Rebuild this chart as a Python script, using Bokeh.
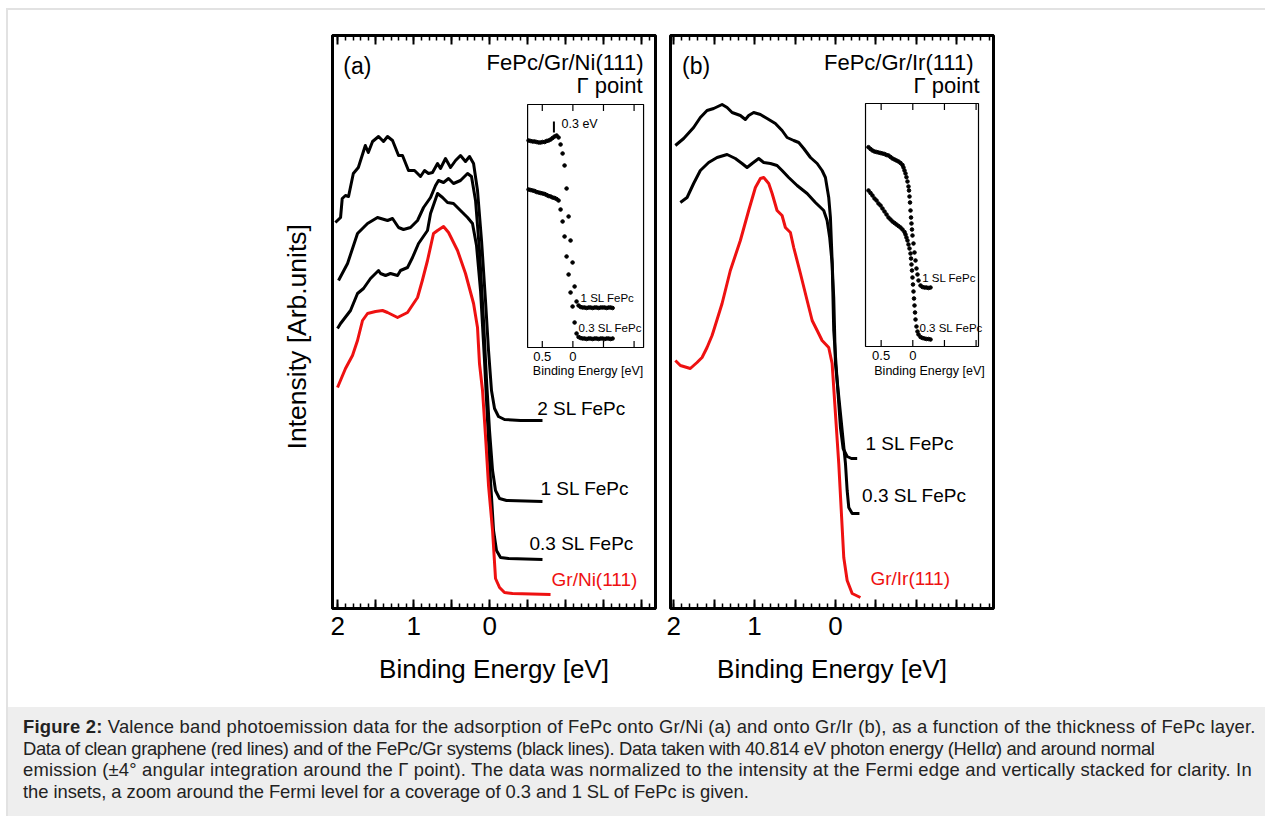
from bokeh.plotting import figure
from bokeh.models import Range1d, LinearAxis, FixedTicker, CustomJSTickFormatter, Div
from bokeh.layouts import row, column
from bokeh.core.properties import value
from bokeh.embed import file_html
from bokeh.resources import INLINE

FONT = "Liberation Sans"
RED = "#ee1111"

# ---------------- Panel (a): FePc/Gr/Ni(111) ----------------
A_2SL_E = [2.032,1.964,1.942,1.899,1.859,1.796,1.730,1.638,1.599,1.543,1.464,1.399,1.346,1.280,1.201,1.149,1.070,0.991,0.951,0.912,0.859,0.807,0.754,0.688,0.649,0.583,0.517,0.451,0.386,0.320,0.267,0.214,0.162,0.109,0.057,0.017,-0.022,-0.062,-0.114,-0.193,-0.404,-0.693]
A_2SL_I = [3.86,3.91,4.10,4.13,4.12,4.35,4.41,4.63,4.56,4.67,4.72,4.67,4.72,4.68,4.53,4.53,4.38,4.38,4.35,4.32,4.38,4.35,4.36,4.45,4.40,4.50,4.41,4.48,4.53,4.47,4.52,4.45,4.18,3.68,3.08,2.58,2.18,2.00,1.92,1.89,1.88,1.88]

A_1SL_E = [1.991,1.872,1.741,1.609,1.478,1.346,1.280,1.201,1.136,1.043,0.951,0.872,0.780,0.714,0.675,0.609,0.543,0.478,0.386,0.293,0.241,0.188,0.136,0.083,0.043,0.004,-0.036,-0.075,-0.128,-0.220,-0.693]
A_1SL_I = [3.28,3.45,3.75,3.85,3.91,3.88,3.90,3.81,3.79,3.81,3.88,4.01,4.11,4.23,4.28,4.26,4.30,4.25,4.28,4.35,4.32,4.08,3.58,2.88,2.28,1.78,1.38,1.18,1.10,1.08,1.07]

A_03_E = [2.004,1.964,1.833,1.741,1.662,1.570,1.464,1.438,1.372,1.307,1.214,1.175,1.083,1.017,0.938,0.820,0.780,0.688,0.622,0.557,0.478,0.386,0.293,0.228,0.175,0.122,0.070,0.030,-0.009,-0.049,-0.088,-0.141,-0.246,-0.693]
A_03_I = [2.80,2.85,2.98,3.15,3.20,3.30,3.38,3.35,3.33,3.35,3.33,3.38,3.41,3.51,3.65,3.78,3.95,4.15,4.11,4.06,4.05,3.98,3.91,3.85,3.63,3.18,2.48,1.88,1.28,0.78,0.58,0.51,0.50,0.49]

A_GR_E = [2.004,1.899,1.807,1.741,1.675,1.609,1.504,1.412,1.346,1.214,1.083,0.951,0.888,0.820,0.741,0.688,0.609,0.543,0.425,0.320,0.214,0.162,0.136,0.096,0.057,0.017,-0.036,-0.075,-0.128,-0.193,-0.299,-0.799]
A_GR_I = [2.21,2.40,2.53,2.68,2.88,2.95,2.97,2.98,2.96,2.91,2.96,3.11,3.28,3.48,3.75,3.78,3.82,3.76,3.58,3.35,3.05,2.81,2.45,2.18,1.73,1.23,0.78,0.30,0.21,0.16,0.15,0.14]

# inset (a): zoom around the Fermi level
IA_E = [0.724,0.691,0.658,0.626,0.593,0.560,0.528,0.495,0.462,0.429,0.397,0.364,0.332,0.299,0.266,0.234,0.201,0.168,0.136,0.103,0.070,0.038,0.005,-0.028,-0.060,-0.093,-0.126,-0.158,-0.191,-0.224,-0.257,-0.289,-0.322,-0.355,-0.387,-0.420,-0.453,-0.485,-0.518,-0.551,-0.583,-0.616,-0.649]
IA_1SL = [2.07,2.065,2.06,2.06,2.055,2.05,2.05,2.055,2.055,2.065,2.07,2.08,2.095,2.11,2.12,2.10,2.03,1.94,1.82,1.59,1.31,1.07,0.85,0.61,0.46,0.42,0.405,0.40,0.40,0.395,0.40,0.40,0.395,0.40,0.40,0.395,0.40,0.40,0.40,0.395,0.40,0.40,0.395]
IA_03 = [1.58,1.575,1.57,1.565,1.555,1.55,1.545,1.54,1.535,1.525,1.515,1.51,1.50,1.495,1.485,1.47,1.38,1.26,1.11,0.91,0.73,0.55,0.41,0.25,0.14,0.105,0.095,0.09,0.09,0.085,0.09,0.09,0.085,0.09,0.09,0.085,0.09,0.09,0.085,0.09,0.09,0.085,0.09]

# ---------------- Panel (b): FePc/Gr/Ir(111) ----------------
B_1SL_E = [1.980,1.877,1.754,1.671,1.588,1.506,1.402,1.340,1.278,1.176,1.114,1.073,1.011,0.928,0.845,0.743,0.660,0.598,0.516,0.454,0.392,0.309,0.226,0.165,0.124,0.083,0.062,0.041,0.021,-0.021,-0.062,-0.095,-0.145,-0.198,-0.269]
B_1SL_I = [4.63,4.70,4.81,4.91,4.98,5.00,5.04,5.01,4.96,4.93,4.89,4.93,4.96,4.94,4.90,4.85,4.78,4.71,4.68,4.66,4.60,4.51,4.45,4.38,4.31,4.11,3.91,3.48,2.78,2.28,1.81,1.60,1.52,1.50,1.50]

B_03_E = [1.918,1.835,1.754,1.671,1.568,1.464,1.340,1.238,1.155,1.093,1.031,0.949,0.887,0.804,0.722,0.660,0.578,0.474,0.350,0.248,0.145,0.103,0.071,0.041,0.021,0.000,-0.062,-0.124,-0.145,-0.165,-0.207,-0.297]
B_03_I = [4.06,4.11,4.25,4.38,4.46,4.51,4.54,4.50,4.45,4.41,4.45,4.50,4.46,4.45,4.43,4.38,4.31,4.23,4.15,4.06,3.98,3.88,3.71,3.45,3.11,2.45,1.95,1.45,1.18,1.01,0.95,0.95]

B_GR_E = [1.980,1.918,1.795,1.712,1.650,1.588,1.526,1.506,1.402,1.300,1.176,1.073,0.990,0.928,0.887,0.825,0.783,0.722,0.660,0.619,0.557,0.516,0.433,0.350,0.288,0.226,0.165,0.083,0.041,0.000,-0.041,-0.074,-0.103,-0.145,-0.207,-0.309]
B_GR_I = [2.48,2.43,2.40,2.46,2.51,2.61,2.73,2.78,3.05,3.38,3.68,3.98,4.21,4.30,4.31,4.25,4.15,3.98,3.93,3.81,3.76,3.61,3.35,3.08,2.88,2.78,2.68,2.61,2.45,1.95,1.45,0.95,0.51,0.28,0.15,0.11]

# inset (b)
IB_1SL_E = [0.700,0.668,0.637,0.605,0.573,0.542,0.510,0.479,0.447,0.415,0.384,0.352,0.321,0.289,0.258,0.226,0.194,0.163,0.147,0.131,0.115,0.100,0.084,0.068,0.060,0.052,0.044,0.036,0.028,0.021,0.013,0.005,-0.011,-0.027,-0.043,-0.058,-0.074,-0.090,-0.122,-0.153,-0.185,-0.216,-0.248,-0.280]
IB_1SL_I = [1.993,1.975,1.96,1.95,1.945,1.94,1.935,1.93,1.925,1.915,1.91,1.895,1.88,1.87,1.86,1.85,1.835,1.815,1.79,1.76,1.73,1.693,1.65,1.60,1.56,1.50,1.44,1.36,1.29,1.23,1.17,1.11,1.03,0.94,0.86,0.78,0.72,0.66,0.61,0.595,0.59,0.59,0.585,0.59]
IB_03_E = [0.700,0.668,0.637,0.605,0.573,0.542,0.510,0.479,0.447,0.415,0.384,0.352,0.321,0.289,0.258,0.226,0.194,0.163,0.131,0.115,0.100,0.084,0.068,0.052,0.036,0.028,0.021,0.013,0.005,-0.003,-0.011,-0.019,-0.027,-0.035,-0.043,-0.058,-0.074,-0.090,-0.122,-0.153,-0.185,-0.216,-0.248,-0.280]
IB_03_I = [1.56,1.535,1.51,1.48,1.46,1.43,1.41,1.38,1.35,1.32,1.29,1.27,1.25,1.235,1.22,1.205,1.19,1.17,1.145,1.12,1.09,1.06,1.02,0.98,0.93,0.88,0.82,0.76,0.69,0.62,0.55,0.48,0.41,0.34,0.27,0.20,0.15,0.12,0.095,0.085,0.08,0.075,0.075,0.07]

# axis / tick configuration
MAJOR = [2.0, 1.5, 1.0, 0.5, 0.0, -0.5, -1.0, -1.5, -2.0]
MINOR = [round(2.0 - 0.1 * i, 1) for i in range(44)]
INSET_TICKS = [0.5, 0.0, -0.5, -1.0]
INSET_TICK_LABELS = ["0.5", "0"]
Y_MAX = 5.73
INSET_TOP = 2.43


def txt(p, x, y, s, size, align="left", baseline="middle", color="black", rn="default"):
    p.text(x=[x], y=[y], text=[s], text_font=value(FONT), text_font_size=value(size),
           text_align=align, text_baseline=baseline, text_color=color,
           x_range_name=rn, y_range_name=rn)


def make_panel(xr, width, mbl, mbr, ylabel=None):
    p = figure(width=width, height=697, x_range=Range1d(*xr), y_range=Range1d(0, Y_MAX),
               output_backend="svg", toolbar_location=None,
               min_border_left=mbl, min_border_right=mbr, min_border_top=25, min_border_bottom=99,
               y_axis_location="left" if ylabel else None)
    p.grid.visible = False
    p.outline_line_color = "black"
    p.outline_line_width = 3
    p.border_fill_color = "white"
    p.background_fill_color = "white"
    xb = p.below[0]
    top = LinearAxis()
    p.add_layout(top, "above")
    for ax in (xb, top):
        ax.ticker = FixedTicker(ticks=MAJOR, minor_ticks=MINOR)
        ax.major_tick_in = 9
        ax.major_tick_out = 0
        ax.minor_tick_in = 5
        ax.minor_tick_out = 0
        ax.major_tick_line_width = 2
        ax.minor_tick_line_width = 1.5
        ax.axis_line_width = 3
    xb.formatter = CustomJSTickFormatter(
        code="return (tick > -0.01 && Math.abs(tick - Math.round(tick)) < 1e-6) ? String(Math.round(tick)) : '';")
    xb.major_label_text_font = FONT
    xb.major_label_text_font_size = "26px"
    xb.major_label_text_color = "black"
    xb.major_label_standoff = 8
    xb.axis_label = "Binding Energy [eV]"
    xb.axis_label_text_font = FONT
    xb.axis_label_text_font_size = "26px"
    xb.axis_label_text_font_style = "normal"
    xb.axis_label_text_color = "black"
    xb.axis_label_standoff = 16
    top.formatter = CustomJSTickFormatter(code="return '';")
    top.major_label_text_font_size = "0px"
    top.major_label_standoff = 0
    if ylabel:
        ya = p.left[0]
        ya.ticker = FixedTicker(ticks=[])
        ya.major_tick_line_color = None
        ya.minor_tick_line_color = None
        ya.major_tick_out = 0
        ya.minor_tick_out = 0
        ya.major_label_text_font_size = "0px"
        ya.major_label_standoff = 0
        ya.axis_line_width = 3
        # trailing no-break spaces shift the centred label toward the bottom, as in the original
        ya.axis_label = ylabel + "\u00a0" * 4
        ya.axis_label_text_font = FONT
        ya.axis_label_text_font_size = "26.5px"
        ya.axis_label_text_font_style = "normal"
        ya.axis_label_text_color = "black"
        ya.axis_label_standoff = 21
    return p


def add_inset(p, xr_full, yr_full, frame_x, e_a, i_a, e_b, i_b):
    p.extra_x_ranges = {"in": Range1d(*xr_full)}
    p.extra_y_ranges = {"in": Range1d(*yr_full)}
    p.quad(left=[frame_x[0]], right=[frame_x[1]], bottom=[0], top=[INSET_TOP],
           fill_color=None, line_color="black", line_width=1.2,
           x_range_name="in", y_range_name="in")
    n = len(INSET_TICKS)
    tl = 0.065
    p.segment(x0=INSET_TICKS, y0=[INSET_TOP] * n, x1=INSET_TICKS, y1=[INSET_TOP - tl] * n,
              line_color="black", line_width=1.2, x_range_name="in", y_range_name="in")
    p.segment(x0=INSET_TICKS, y0=[0] * n, x1=INSET_TICKS, y1=[tl] * n,
              line_color="black", line_width=1.2, x_range_name="in", y_range_name="in")
    p.scatter(e_a, i_a, size=3.6, color="black", x_range_name="in", y_range_name="in")
    p.scatter(e_b, i_b, size=3.6, color="black", x_range_name="in", y_range_name="in")
    p.text(x=INSET_TICKS[:2], y=[-0.085, -0.085], text=INSET_TICK_LABELS,
           text_font=value(FONT), text_font_size=value("13px"), text_align="center",
           text_baseline="middle", x_range_name="in", y_range_name="in")


# ---------- panel (a) ----------
pa = make_panel((2.07, -2.18), 654, 324, 7, ylabel="Intensity [Arb.units]")
for e, i, c in [(A_2SL_E, A_2SL_I, "black"), (A_1SL_E, A_1SL_I, "black"),
                (A_03_E, A_03_I, "black"), (A_GR_E, A_GR_I, RED)]:
    pa.line(e, i, line_width=3, line_color=c, line_join="round")
txt(pa, 1.929, 5.43, "(a)", "23px")
txt(pa, -2.022, 5.46, "FePc/Gr/Ni(111)", "22px", align="right")
txt(pa, -2.009, 5.23, "\u0393 point", "22px", align="right")
txt(pa, -0.624, 2.00, "2 SL FePc", "19px")
txt(pa, -0.667, 1.20, "1 SL FePc", "19px")
txt(pa, -0.522, 0.65, "0.3 SL FePc", "19px")
txt(pa, -0.812, 0.29, "Gr/Ni(111)", "19px", color=RED)
add_inset(pa, (3.928, -1.350), (-2.61, 3.12), (0.740, -1.155), IA_E, IA_1SL, IA_E, IA_03)
pa.segment(x0=[0.31], y0=[2.15], x1=[0.31], y1=[2.26], line_color="black", line_width=2,
           x_range_name="in", y_range_name="in")
txt(pa, 0.185, 2.235, "0.3 eV", "12.5px", rn="in")
txt(pa, -0.126, 0.50, "1 SL FePc", "11.5px", rn="in")
txt(pa, -0.093, 0.20, "0.3 SL FePc", "11.5px", rn="in")
txt(pa, -0.248, -0.235, "Binding Energy [eV]", "12.5px", align="center", rn="in")

# ---------- panel (b) ----------
pb = make_panel((2.04, -1.955), 603, 8, 272)
for e, i, c in [(B_1SL_E, B_1SL_I, "black"), (B_03_E, B_03_I, "black"), (B_GR_E, B_GR_I, RED)]:
    pb.line(e, i, line_width=3, line_color=c, line_join="round")
txt(pb, 1.897, 5.43, "(b)", "23px")
txt(pb, -1.708, 5.46, "FePc/Gr/Ir(111)", "22px", align="right")
txt(pb, -1.782, 5.23, "\u0393 point", "22px", align="right")
txt(pb, -0.371, 1.65, "1 SL FePc", "19px")
txt(pb, -0.330, 1.13, "0.3 SL FePc", "19px")
txt(pb, -0.433, 0.30, "Gr/Ir(111)", "19px", color=RED)
add_inset(pb, (3.828, -1.275), (-2.62, 3.11), (0.747, -1.038), IB_1SL_E, IB_1SL_I, IB_03_E, IB_03_I)
txt(pb, -0.148, 0.69, "1 SL FePc", "11.5px", rn="in")
txt(pb, -0.106, 0.19, "0.3 SL FePc", "11.5px", rn="in")
txt(pb, -0.264, -0.24, "Binding Energy [eV]", "12.5px", align="center", rn="in")

CAPTION_LINES = [
    "<b>Figure 2:</b> Valence band photoemission data for the adsorption of FePc onto Gr/Ni (a) and onto Gr/Ir (b), "
    "as a function of the thickness of FePc layer.",
    "Data of clean graphene (red lines) and of the FePc/Gr systems (black lines). Data taken with 40.814 eV photon "
    "energy (HeII<i>\u03b1</i>) and around normal",
    "emission (\u00b14\u00b0 angular integration around the \u0393 point). The data was normalized to the intensity "
    "at the Fermi edge and vertically stacked for clarity. In",
    "the insets, a zoom around the Fermi level for a coverage of 0.3 and 1 SL of FePc is given.",
]
LINE_SPACING = ["0.2px", "-0.37px", "0.18px", "-0.05px"]

cap_inner = "".join('<div style="letter-spacing:%s">%s</div>' % (ls, t)
                    for ls, t in zip(LINE_SPACING, CAPTION_LINES))
cap_html = ('<div style="background:#eeeeee;width:1257px;height:109px;box-sizing:border-box;'
            'padding:9px 0 0 15px;font-family:\'Liberation Sans\',Arial,sans-serif;font-size:18.4px;'
            'line-height:21.6px;color:#222;white-space:nowrap;overflow:hidden;">' + cap_inner + '</div>')

BORDER = "#e2e2e2"
top_space = Div(text="", width=1265, height=8, margin=0)
left_space = Div(text="", width=6, height=808, margin=0)
top_bar = Div(text="", width=1259, height=2, margin=0, styles={"background-color": BORDER})
left1 = Div(text="", width=2, height=697, margin=0, styles={"background-color": BORDER})
left2 = Div(text="", width=2, height=109, margin=0, styles={"background-color": BORDER})
caption = Div(text=cap_html, width=1257, height=109, margin=0)

inner = column(top_bar, row(left1, pa, pb, spacing=0), row(left2, caption, spacing=0), spacing=0)
layout = column(top_space, row(left_space, inner, spacing=0), spacing=0)

open("out.html", "w").write(file_html(layout, INLINE))
